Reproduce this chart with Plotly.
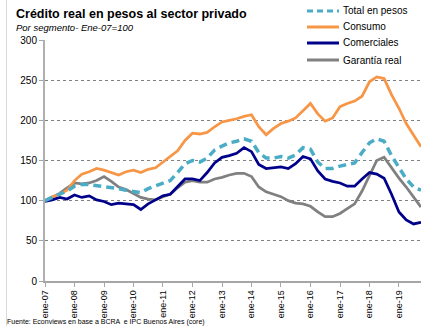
import pandas as pd
import plotly.graph_objects as go

# Quarterly observations, Jan-2007 .. Oct-2019 (index Ene-07 = 100)
dates = pd.date_range("2007-01-01", periods=52, freq="QS")

total_pesos = [100, 104, 108, 112, 118, 120, 120, 119, 117, 116, 115, 113,
               112, 110, 115, 118, 121, 125, 135, 146, 150, 148, 153, 163,
               168, 172, 174, 177, 174, 160, 153, 153, 155, 153, 157, 166,
               164, 148, 140, 140, 143, 145, 147, 160, 172, 177, 174, 156,
               141, 127, 117, 113]
consumo = [100, 105, 108, 113, 125, 133, 136, 140, 138, 135, 132, 136,
           138, 135, 139, 141, 148, 155, 162, 175, 184, 183, 185, 192,
           198, 200, 202, 205, 207, 192, 182, 190, 196, 199, 203, 212,
           221, 208, 199, 203, 217, 221, 224, 230, 248, 254, 252, 232,
           215, 196, 182, 167]
comerciales = [99, 101, 104, 102, 107, 104, 106, 101, 99, 95, 97, 96,
               95, 89, 96, 101, 106, 108, 118, 127, 127, 125, 135, 147,
               154, 156, 159, 166, 161, 145, 140, 141, 142, 140, 146, 155,
               152, 137, 127, 124, 122, 118, 118, 127, 135, 133, 128, 108,
               86, 76, 71, 73]
garantia_real = [100, 104, 109, 116, 122, 121, 122, 125, 130, 124, 117, 114,
                 109, 104, 102, 101, 105, 108, 116, 123, 125, 123, 123, 127,
                 129, 132, 134, 134, 130, 117, 111, 108, 105, 100, 97, 96,
                 93, 86, 80, 80, 84, 90, 96, 112, 132, 150, 154, 141,
                 128, 117, 105, 92]

series_names = ["Total en pesos", "Consumo", "Comerciales", "Garantía real"]
series_values = [total_pesos, consumo, comerciales, garantia_real]
series_colors = ["#4BACC6", "#F79646", "#00008B", "#808080"]
series_dash = ["8px,5px", "solid", "solid", "solid"]
series_width = [3.5, 2.75, 2.75, 2.75]

tick_years = list(range(2007, 2020))
tick_vals = [pd.Timestamp(f"{y}-01-01") for y in tick_years]
tick_text = [f"ene-{y % 100:02d}" for y in tick_years]

W, H = 443, 330
ml, mr, mt, mb = 45, 22, 40, 49
pw, ph = W - ml - mr, H - mt - mb

fig = go.Figure()
# draw in order so that Total is on top
for i in [3, 2, 1, 0]:
    fig.add_trace(go.Scatter(
        x=dates, y=series_values[i], mode="lines", name=series_names[i],
        line=dict(color=series_colors[i], width=series_width[i], dash=series_dash[i]),
        showlegend=False, hoverinfo="skip"))

FONT = "Liberation Sans, Arial, sans-serif"

fig.update_layout(
    width=W, height=H,
    margin=dict(l=ml, r=mr, t=mt, b=mb),
    paper_bgcolor="white", plot_bgcolor="white",
    font=dict(family=FONT, size=10, color="black"),
    xaxis=dict(
        range=[dates[0], dates[-1]],
        tickvals=tick_vals, ticktext=tick_text, tickangle=-90,
        tickfont=dict(size=9), ticks="outside", ticklen=4, tickcolor="#A6A6A6",
        showgrid=False, showline=True, linecolor="#A6A6A6", linewidth=1.5,
        zeroline=False, fixedrange=True,
    ),
    yaxis=dict(
        range=[0, 300], tickvals=[0, 50, 100, 150, 200, 250, 300],
        tickfont=dict(size=10), ticks="outside", ticklen=4, tickcolor="#A6A6A6",
        showgrid=True, gridcolor="#808080", gridwidth=1, griddash="dot",
        showline=True, linecolor="#B0B0B0", linewidth=2,
        zeroline=False, fixedrange=True,
    ),
)

def px_x(x):
    return (x - ml) / pw

def px_y(y):
    return 1 - (y - mt) / ph

annotations = [
    dict(text="<b>Crédito real en pesos al sector privado</b>", x=px_x(14), y=px_y(14),
         xref="paper", yref="paper", xanchor="left", yanchor="middle", showarrow=False,
         font=dict(size=12.5, family=FONT)),
    dict(text="<i>Por segmento- Ene-07=100</i>", x=px_x(14), y=px_y(28),
         xref="paper", yref="paper", xanchor="left", yanchor="middle", showarrow=False,
         font=dict(size=9.5, family=FONT)),
    dict(text="Fuente: Econviews en base a BCRA  e IPC Buenos Aires (core)", x=px_x(5), y=px_y(322),
         xref="paper", yref="paper", xanchor="left", yanchor="middle", showarrow=False,
         font=dict(size=7, family=FONT)),
]
shapes = [
    dict(type="line", xref="paper", yref="paper", x0=px_x(6.5), x1=px_x(6.5),
         y0=px_y(0), y1=px_y(326), line=dict(color="#D9D9D9", width=1)),
]

legend_rows = [11, 27, 43, 60]
for i, yy in enumerate(legend_rows):
    shapes.append(dict(type="line", xref="paper", yref="paper",
                       x0=px_x(307), x1=px_x(339), y0=px_y(yy), y1=px_y(yy),
                       line=dict(color=series_colors[i], width=3,
                                 dash="6px,4px" if i == 0 else "solid")))
    annotations.append(dict(text=series_names[i], x=px_x(341), y=px_y(yy),
                            xref="paper", yref="paper", xanchor="left", yanchor="middle",
                            showarrow=False, font=dict(size=10, family=FONT)))

fig.update_layout(annotations=annotations, shapes=shapes)
fig.write_html("out.html", config={"displayModeBar": False})
